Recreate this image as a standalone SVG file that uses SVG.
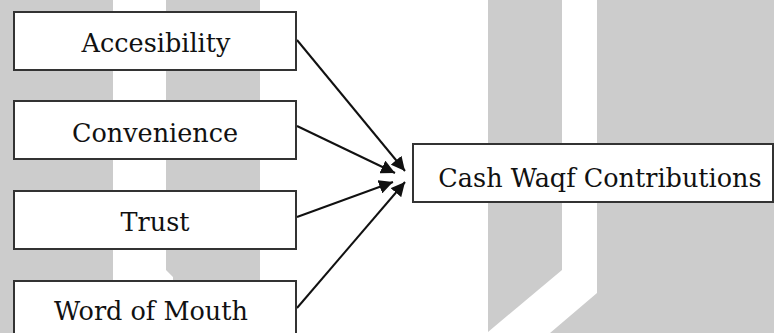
<svg xmlns="http://www.w3.org/2000/svg" width="774" height="333" viewBox="0 0 774 333">
  <style>
    .bg { fill: #cccccc; stroke: none; }
    .box { fill: #ffffff; stroke: #333333; stroke-width: 2; }
    .lbl { font-family: "DejaVu Serif", "Liberation Serif", serif; font-size: 25.5px; fill: #111111; text-anchor: middle; }
    .edge { stroke: #111111; stroke-width: 2; fill: none; marker-end: url(#arr); }
  </style>
  <defs>
    <marker id="arr" markerUnits="userSpaceOnUse" markerWidth="16" markerHeight="14" refX="14" refY="7" orient="auto">
      <path d="M0,0 L14,7 L0,14 Z" fill="#111111"/>
    </marker>
  </defs>
  <rect width="774" height="333" fill="#ffffff"/>
  <g id="background">
    <rect class="bg" x="0" y="0" width="113" height="333"/>
    <polygon class="bg" points="166,0 260,0 260,333 173,333 173,277 166,270"/>
    <polygon class="bg" points="488,0 562,0 562,270 488,332"/>
    <polygon class="bg" points="597,0 774,0 774,333 550,333 597,293"/>
  </g>
  <g id="connectors">
    <line class="edge" x1="297" y1="40" x2="405" y2="171"/>
    <line class="edge" x1="297" y1="126" x2="395" y2="173"/>
    <line class="edge" x1="297" y1="217" x2="393" y2="182"/>
    <line class="edge" x1="297" y1="308" x2="405" y2="182"/>
  </g>
  <g id="accesibility">
    <rect class="box" x="14" y="12" width="282" height="58"/>
    <text class="lbl" x="156" y="52">Accesibility</text>
  </g>
  <g id="convenience">
    <rect class="box" x="14" y="101" width="282" height="58"/>
    <text class="lbl" x="155" y="142">Convenience</text>
  </g>
  <g id="trust">
    <rect class="box" x="14" y="191" width="282" height="58"/>
    <text class="lbl" x="155" y="231">Trust</text>
  </g>
  <g id="word-of-mouth">
    <rect class="box" x="14" y="281" width="282" height="60"/>
    <text class="lbl" x="151" y="320">Word of Mouth</text>
  </g>
  <g id="cash-waqf">
    <rect class="box" x="413" y="144" width="360" height="58"/>
    <text class="lbl" x="600" y="187">Cash Waqf Contributions</text>
  </g>
</svg>
